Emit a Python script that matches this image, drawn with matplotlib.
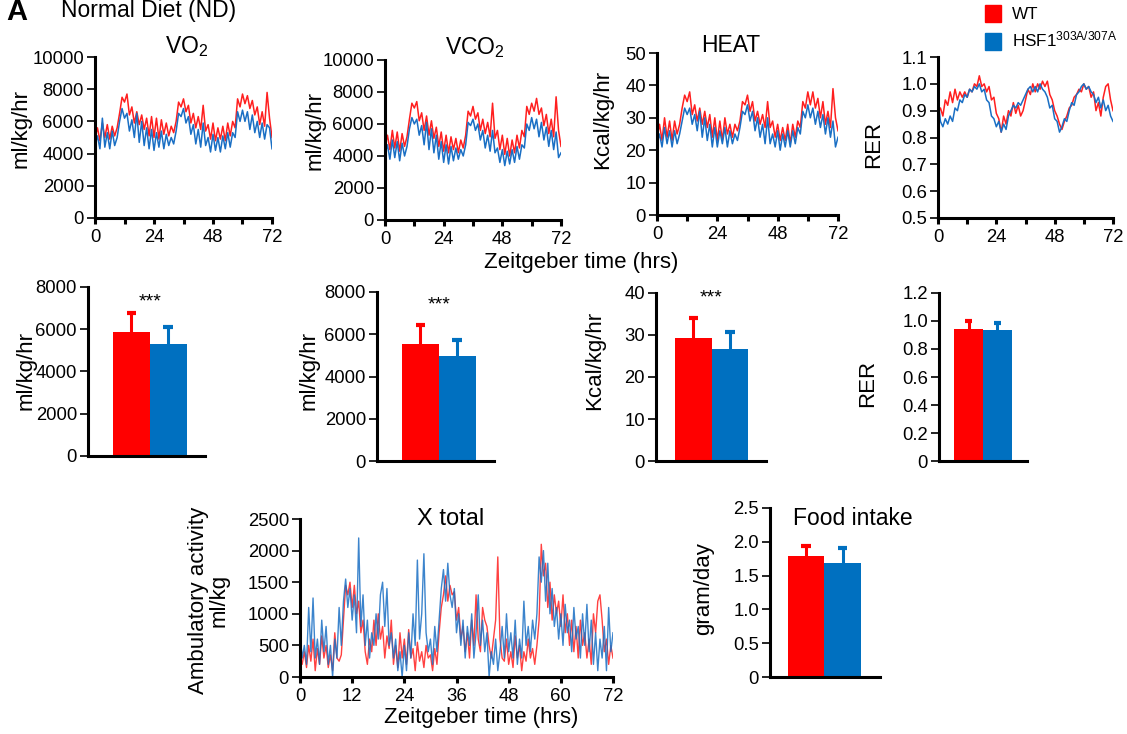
import numpy as np
import matplotlib
matplotlib.use('Agg')
import matplotlib.pyplot as plt
from matplotlib.patches import Patch

plt.rcParams['font.family'] = ['Liberation Sans', 'DejaVu Sans']
plt.rcParams['mathtext.fontset'] = 'custom'
plt.rcParams['mathtext.rm'] = 'Liberation Sans'
plt.rcParams['mathtext.it'] = 'Liberation Sans'

RED = '#ff0000'
BLUE = '#0070c0'
LRED = '#ff1f1f'
LBLUE = '#1a6fc4'

groups = ['WT', 'HSF1$^{\\mathregular{303A/307A}}$']

# hourly traces, ZT 0..72
vo2_wt = [5000, 5600, 4800, 5900, 5000, 5800, 4900, 5700, 5100, 5600, 6500, 7500,
          7200, 7700, 6400, 6900, 5900, 6600, 5800, 6400, 5500, 6200, 5100, 6300,
          5000, 6200, 4900, 6100, 5200, 5900, 5100, 5700, 5300, 6000, 7200, 6900,
          7400, 6600, 7000, 5900, 6500, 5600, 6300, 5500, 7000, 5400, 5800, 4900,
          5900, 4800, 5600, 4900, 5700, 4800, 5900, 5100, 6000, 5600, 7400, 6900,
          7700, 7100, 7600, 6800, 7300, 6400, 6900, 5800, 6600, 5700, 7800, 6200,
          5000]
vo2_ko = [4500, 5100, 4300, 6200, 4400, 5300, 4300, 5400, 4500, 5000, 6000, 6800,
          6200, 6500, 5400, 6100, 5000, 6500, 4700, 6000, 4500, 5600, 4300, 5500,
          4200, 5300, 4400, 5400, 4300, 5200, 4500, 5000, 4600, 5400, 6500, 6300,
          6800, 5900, 6300, 5200, 5800, 4600, 5500, 4400, 5900, 4500, 5000, 4100,
          5200, 4200, 5000, 4100, 5100, 4300, 5300, 4400, 5300, 5000, 6600, 6000,
          6700, 6000, 6600, 5500, 6400, 5300, 6000, 5000, 5900, 4900, 5800, 5600,
          4300]
vco2_wt = [4600, 5300, 4400, 5600, 4500, 5500, 4300, 5400, 4600, 5200, 6300, 7300,
           7000, 7400, 6200, 6700, 5600, 6500, 5300, 6200, 5100, 5800, 4600, 5500,
           4300, 5300, 4200, 5200, 4400, 5100, 4200, 5000, 4500, 5300, 6800, 6500,
           7100, 6300, 6700, 5600, 6300, 5400, 6100, 5200, 7300, 5100, 5600, 4400,
           5300, 4100, 5100, 4000, 5000, 4200, 5300, 4500, 5600, 5200, 7100, 6600,
           7300, 6800, 7600, 6600, 7000, 5900, 6600, 5400, 6300, 5200, 7700, 5600,
           4600]
vco2_ko = [4100, 4700, 3800, 5000, 3900, 4900, 3700, 4800, 4000, 4600, 5700, 6400,
           6000, 6300, 5300, 5900, 4700, 6100, 4400, 5700, 4200, 5300, 3800, 4900,
           3600, 4700, 3500, 4600, 3700, 4500, 3800, 4400, 4000, 4700, 6100, 5900,
           6300, 5600, 6000, 5000, 5600, 4500, 5300, 4300, 5600, 4200, 4500, 3600,
           4400, 3400, 4300, 3500, 4400, 3600, 4600, 3800, 4700, 4500, 6000, 5600,
           6400, 5700, 6300, 5200, 6100, 5000, 5800, 4600, 5600, 4400, 5500, 3900,
           4200]
heat_wt = [24, 28, 23, 30, 24, 29, 23, 29, 25, 28, 33, 37,
           35, 38, 31, 34, 29, 33, 28, 32, 27, 31, 24, 30,
           23, 29, 23, 30, 25, 28, 24, 28, 26, 29, 35, 34,
           37, 32, 35, 29, 32, 28, 31, 27, 35, 27, 29, 24,
           28, 23, 27, 23, 28, 22, 28, 24, 29, 27, 35, 33,
           38, 34, 38, 33, 36, 30, 35, 28, 32, 27, 39, 30,
           26]
heat_ko = [22, 25, 21, 27, 22, 26, 21, 26, 22, 25, 29, 33,
           31, 33, 28, 31, 26, 32, 24, 30, 23, 28, 21, 27,
           21, 26, 22, 27, 21, 26, 22, 25, 23, 27, 32, 31,
           34, 29, 32, 26, 30, 24, 28, 22, 30, 22, 25, 21,
           26, 20, 25, 21, 26, 21, 26, 22, 27, 25, 32, 30,
           34, 30, 33, 28, 32, 27, 31, 25, 30, 24, 29, 21,
           24]
rer_wt = [0.89, 0.91, 0.88, 0.94, 0.92, 0.97, 0.93, 0.98, 0.94, 0.97, 0.95, 0.97,
          0.95, 0.98, 0.97, 1.00, 0.99, 1.03, 0.99, 1.00, 0.97, 0.99, 0.94, 0.95,
          0.89, 0.87, 0.82, 0.88, 0.85, 0.90, 0.88, 0.93, 0.89, 0.92, 0.88, 0.90,
          0.94, 0.98, 0.96, 1.00, 0.97, 1.00, 0.98, 1.01, 0.99, 1.01, 0.96, 0.94,
          0.90, 0.88, 0.85, 0.83, 0.86, 0.88, 0.91, 0.92, 0.95, 0.96, 0.98, 0.97,
          1.00, 0.98, 0.99, 0.95, 0.97, 0.90, 0.93, 0.88, 0.95, 0.99, 1.00, 0.94,
          0.90]
rer_ko = [0.95, 0.86, 0.84, 0.87, 0.85, 0.88, 0.86, 0.91, 0.90, 0.94, 0.93, 0.96,
          0.95, 0.98, 0.97, 0.99, 0.98, 1.00, 0.97, 0.98, 0.94, 0.93, 0.88, 0.87,
          0.84, 0.86, 0.82, 0.85, 0.83, 0.88, 0.90, 0.92, 0.91, 0.93, 0.92, 0.94,
          0.96, 0.98, 0.99, 0.97, 0.99, 0.97, 1.00, 0.98, 0.97, 0.95, 0.91, 0.92,
          0.87, 0.86, 0.82, 0.84, 0.87, 0.86, 0.90, 0.93, 0.92, 0.96, 0.97, 0.99,
          1.00, 0.98, 0.99, 0.97, 0.96, 0.93, 0.95, 0.91, 0.94, 0.90, 0.92, 0.88,
          0.86]

# ambulatory activity, every half hour, ZT 0..72
act_wt = [300, 200, 400, 150, 500, 250, 600, 100, 450, 200, 650, 300,
          500, 150, 350, 100, 700, 300, 250, 350, 900, 1450, 1300, 1500,
          1100, 1450, 1000, 1200, 700, 900, 400, 200, 600, 400, 900, 500,
          1000, 600, 800, 300, 650, 450, 900, 200, 500, 150, 700, 300,
          600, 200, 750, 300, 450, 100, 550, 250, 400, 150, 500, 300,
          350, 100, 450, 200, 700, 1100, 1300, 1600, 1200, 1450, 1300, 1350,
          900, 1100, 600, 800, 400, 700, 300, 900, 500, 1300, 600, 400,
          1100, 900, 800, 500, 300, 600, 900, 1900, 600, 300, 250, 600,
          200, 400, 150, 650, 300, 500, 100, 400, 250, 600, 300, 450,
          200, 500, 900, 2100, 1600, 1800, 1100, 1500, 900, 1300, 1000, 1200,
          800, 1300, 700, 1000, 500, 900, 400, 800, 300, 900, 500, 700,
          300, 600, 200, 1000, 700, 1200, 1300, 900, 400, 600, 200, 500,
          300]
act_ko = [700, 300, 500, 200, 1100, 400, 1250, 300, 600, 200, 900, 400,
          800, 200, 500, 0, 600, 300, 1100, 500, 1200, 1550, 1100, 1400,
          900, 1300, 700, 2200, 800, 1300, 500, 900, 300, 700, 500, 1000,
          600, 1300, 1500, 800, 1400, 500, 700, 300, 600, 100, 400, 0,
          500, 100, 700, 300, 1000, 500, 1850, 600, 1000, 1950, 700, 400,
          600, 200, 800, 400, 900, 1400, 1700, 1200, 1800, 1300, 1100, 1400,
          700, 1000, 500, 900, 300, 800, 500, 1000, 300, 700, 1300, 500,
          900, 400, 700, 0, 400, 200, 600, 100, 400, 800, 300, 1000,
          400, 700, 300, 900, 200, 600, 300, 1200, 500, 800, 400, 900,
          600, 1000, 1900, 1500, 2000, 1200, 1800, 1000, 1400, 800, 1100, 600,
          1000, 500, 1150, 700, 900, 400, 1100, 600, 800, 300, 1000, 500,
          1150, 400, 900, 200, 700, 100, 600, 300, 800, 100, 1100, 400,
          700]

# averages (mean, upper error)
vo2_mean, vo2_err = [5890, 5300], [880, 800]
vco2_mean, vco2_err = [5540, 4970], [900, 760]
heat_mean, heat_err = [29.4, 26.6], [4.6, 4.0]
rer_mean, rer_err = [0.945, 0.936], [0.055, 0.052]
food_mean, food_err = [1.79, 1.69], [0.15, 0.22]

TICK_FS = 13.3
LAB_FS = 16
TITLE_FS = 16.5

W, H = 1127, 734
fig = plt.figure(figsize=(W / 100, H / 100), dpi=100)


def px_axes(l, r, t, b):
    return fig.add_axes([l / W, 1 - b / H, (r - l) / W, (b - t) / H])


def ftext(x, y, s, **kw):
    return fig.text(x / W, 1 - y / H, s, **kw)


def style(ax):
    for s in ['top', 'right']:
        ax.spines[s].set_visible(False)
    for s in ['left', 'bottom']:
        ax.spines[s].set_linewidth(2.2)
    ax.tick_params(axis='y', length=6, width=1.2, labelsize=TICK_FS, pad=2)
    ax.tick_params(axis='x', length=4, width=2.2, labelsize=TICK_FS, pad=4)


hours = np.arange(len(vo2_wt))

# ---- top row: time courses
ts = [
    ('VO$_2$', vo2_wt, vo2_ko, (95, 272, 57, 218), (0, 10000), range(0, 10001, 2000), None,
     'ml/kg/hr', (21, 128), (187, 47)),
    ('VCO$_2$', vco2_wt, vco2_ko, (385, 561, 60, 220), (0, 10000), range(0, 10001, 2000), None,
     'ml/kg/hr', (315, 130), (475, 48)),
    ('HEAT', heat_wt, heat_ko, (657, 838, 53, 215), (0, 50), range(0, 51, 10), None,
     'Kcal/kg/hr', (603, 119), (731, 45)),
    (None, rer_wt, rer_ko, (938, 1113, 57, 218), (0.5, 1.1),
     [0.5, 0.6, 0.7, 0.8, 0.9, 1.0, 1.1], ['0.5', '0.6', '0.7', '0.8', '0.9', '1.0', '1.1'],
     'RER', (874, 144), None),
]
for title, wt, ko, rect, ylim, yt, ytl, ylab, ylpos, tpos in ts:
    ax = px_axes(*rect)
    ax.plot(hours, wt, color=LRED, lw=1.1)
    ax.plot(hours, ko, color=LBLUE, lw=1.1)
    ax.set_xlim(0, 72)
    ax.set_ylim(*ylim)
    ax.set_xticks(range(0, 73, 12))
    ax.set_xticklabels(['0', '', '24', '', '48', '', '72'])
    ax.set_yticks(list(yt))
    if ytl:
        ax.set_yticklabels(ytl)
    style(ax)
    ftext(*ylpos, ylab, rotation=90, ha='center', va='center', fontsize=LAB_FS)
    if title:
        ftext(*tpos, title, ha='center', va='center', fontsize=TITLE_FS)

ftext(581, 262, 'Zeitgeber time (hrs)', ha='center', va='center', fontsize=LAB_FS)

fig.legend([Patch(color=RED), Patch(color=BLUE)], groups, loc='upper left',
           bbox_to_anchor=(985 / W, 1 - 5 / H), frameon=False, handlelength=0.95,
           handleheight=1.15, handletextpad=0.65, labelspacing=0.45, fontsize=12.3,
           borderaxespad=0, borderpad=0)

ftext(6, 20, 'A', fontsize=21, fontweight='bold', ha='left', va='baseline')
ftext(61, 17, 'Normal Diet (ND)', fontsize=16.5, ha='left', va='baseline')


# ---- bar panels
def bar_panel(rect, xlim, means, errs, ylim, yt, ytl, ylab, ylpos, star=None, title=None):
    ax = px_axes(*rect)
    cols = [RED, BLUE]
    ax.bar([0, 1], means, width=1.0, color=cols, zorder=2)
    for i in range(2):
        top = means[i] + errs[i]
        ax.errorbar(i, means[i], yerr=[[0], [errs[i]]], color=cols[i], elinewidth=2.2,
                    capsize=0, zorder=1)
        ax.hlines(top, i - 0.13, i + 0.13, color=cols[i], lw=3, zorder=1)
    ax.set_xlim(*xlim)
    ax.set_ylim(*ylim)
    ax.set_xticks([])
    ax.set_yticks(yt)
    ax.set_yticklabels(ytl)
    style(ax)
    ftext(*ylpos, ylab, rotation=90, ha='center', va='center', fontsize=LAB_FS)
    if star:
        ax.text(0.5, star, '***', ha='center', va='center', fontsize=14)
    if title:
        ax.text(*title, transform=ax.transAxes, ha='center', va='center', fontsize=TITLE_FS)
    return ax


bar_panel((88, 205, 287, 456), (-1.18, 2.0), vo2_mean, vo2_err, (0, 8000),
          [0, 2000, 4000, 6000, 8000], ['0', '2000', '4000', '6000', '8000'],
          'ml/kg/hr', (26, 370), star=7300)
bar_panel((377, 494, 292, 461), (-1.18, 2.0), vco2_mean, vco2_err, (0, 8000),
          [0, 2000, 4000, 6000, 8000], ['0', '2000', '4000', '6000', '8000'],
          'ml/kg/hr', (309, 370), star=7380)
bar_panel((656, 766, 293, 461), (-1.02, 1.99), heat_mean, heat_err, (0, 40),
          [0, 10, 20, 30, 40], ['0', '10', '20', '30', '40'],
          'Kcal/kg/hr', (595, 360), star=38.8)
bar_panel((939, 1027, 293, 461), (-1.02, 2.02), rer_mean, rer_err, (0, 1.2),
          [0, 0.2, 0.4, 0.6, 0.8, 1.0, 1.2], ['0', '0.2', '0.4', '0.6', '0.8', '1.0', '1.2'],
          'RER', (868, 383))
bar_panel((770, 880, 508, 677), (-0.99, 2.02), food_mean, food_err, (0, 2.5),
          [0, 0.5, 1.0, 1.5, 2.0, 2.5], ['0', '0.5', '1.0', '1.5', '2.0', '2.5'],
          'gram/day', (704, 589), title=(0.75, 0.94, 'Food intake'))

# ---- ambulatory activity
half_hours = np.arange(len(act_wt)) * 0.5
ax = px_axes(300, 613, 519, 677)
ax.plot(half_hours, act_wt, color=LRED, lw=1.0, alpha=0.85)
ax.plot(half_hours, act_ko, color=LBLUE, lw=1.0, alpha=0.85)
ax.set_xlim(0, 72)
ax.set_ylim(0, 2500)
ax.set_xticks(range(0, 73, 12))
ax.set_yticks(range(0, 2501, 500))
style(ax)
ax.text(0.48, 1.0, 'X total', transform=ax.transAxes, ha='center', va='center', fontsize=17)
ftext(209, 600, 'Ambulatory activity\nml/kg', rotation=90, ha='center', va='center',
      fontsize=LAB_FS, linespacing=1.0)
ftext(481, 718, 'Zeitgeber time (hrs)', ha='center', va='center', fontsize=LAB_FS)

fig.savefig('out.png', dpi=100)
